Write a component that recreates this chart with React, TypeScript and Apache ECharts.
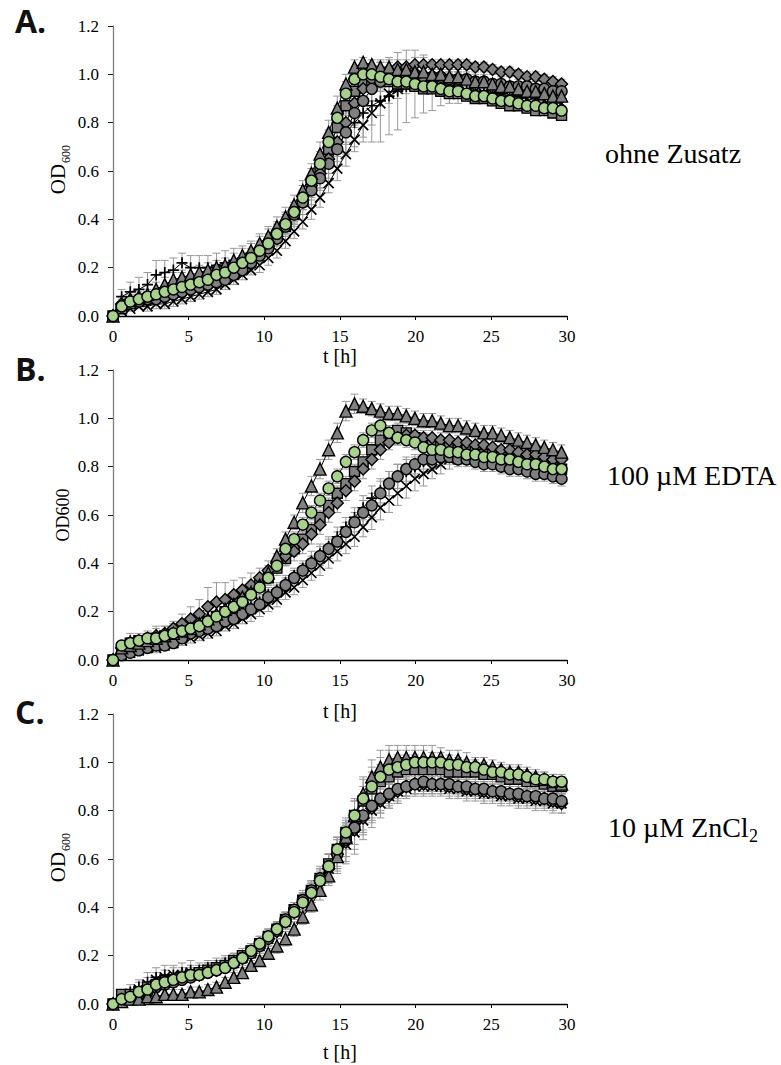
import React, { useEffect, useRef } from "react";
import * as echarts from "echarts";

// ---- sampling times [h] ----
const TIMES = [0.00,0.57,1.14,1.71,2.28,2.85,3.42,3.99,4.56,5.13,
  5.70,6.27,6.84,7.41,7.98,8.55,9.12,9.69,10.26,10.83,
  11.40,11.97,12.54,13.11,13.68,14.25,14.82,15.39,15.96,16.53,
  17.10,17.67,18.24,18.81,19.38,19.95,20.52,21.09,21.66,22.23,
  22.80,23.37,23.94,24.51,25.08,25.65,26.22,26.79,27.36,27.93,
  28.50,29.07,29.64];

const X_TICKS = [0, 5, 10, 15, 20, 25, 30];
const Y_TICKS = [0, 0.2, 0.4, 0.6, 0.8, 1.0, 1.2];

// ---- Panel A: ohne Zusatz ----
const A_TRI = [0.00,0.05,0.07,0.08,0.09,0.11,0.13,0.15,0.16,0.17, 0.18,0.19,0.20,0.21,0.23,0.25,0.27,0.30,0.33,0.37, 0.41,0.46,0.52,0.59,0.67,0.76,0.86,0.96,1.03,1.05, 1.04,1.03,1.03,1.02,1.02,1.01,1.01,1.00,1.00,0.99, 0.99,0.98,0.97,0.97,0.96,0.95,0.95,0.94,0.93,0.93, 0.92,0.91,0.91];
const A_GREEN = [0.00,0.04,0.06,0.07,0.08,0.09,0.10,0.11,0.12,0.13, 0.14,0.15,0.17,0.18,0.20,0.22,0.24,0.27,0.30,0.34, 0.38,0.43,0.49,0.56,0.63,0.72,0.82,0.92,0.98,1.00, 1.00,0.99,0.98,0.97,0.97,0.96,0.95,0.95,0.94,0.93, 0.93,0.92,0.91,0.91,0.90,0.89,0.89,0.88,0.87,0.87, 0.86,0.86,0.85];
const A_SQUARE = [0.00,0.03,0.05,0.06,0.07,0.08,0.09,0.10,0.11,0.12, 0.13,0.14,0.16,0.17,0.19,0.21,0.23,0.26,0.29,0.33, 0.37,0.42,0.48,0.54,0.61,0.69,0.78,0.87,0.93,0.96, 0.97,0.97,0.97,0.96,0.96,0.95,0.94,0.94,0.93,0.92, 0.92,0.91,0.90,0.90,0.89,0.88,0.87,0.87,0.86,0.85, 0.85,0.84,0.83];
const A_DIAMOND = [0.00,0.05,0.06,0.07,0.08,0.09,0.10,0.11,0.12,0.12, 0.13,0.14,0.15,0.17,0.18,0.20,0.23,0.26,0.29,0.33, 0.38,0.43,0.48,0.54,0.59,0.65,0.72,0.80,0.88,0.94, 0.98,1.01,1.02,1.03,1.03,1.04,1.04,1.04,1.04,1.04, 1.04,1.04,1.03,1.03,1.02,1.01,1.01,1.00,0.99,0.99, 0.98,0.97,0.96];
const A_GRAY = [0.00,0.04,0.06,0.06,0.07,0.07,0.08,0.09,0.10,0.11, 0.12,0.13,0.14,0.15,0.17,0.19,0.22,0.25,0.28,0.32, 0.37,0.42,0.47,0.52,0.57,0.63,0.69,0.76,0.84,0.89, 0.94,0.97,0.99,1.00,1.00,1.00,0.99,0.99,0.99,0.98, 0.98,0.98,0.97,0.97,0.96,0.96,0.95,0.95,0.95,0.94, 0.94,0.93,0.93];
const A_CROSS = [0.00,0.02,0.03,0.04,0.04,0.05,0.05,0.06,0.07,0.08, 0.09,0.10,0.11,0.13,0.15,0.17,0.19,0.21,0.24,0.27, 0.31,0.35,0.39,0.44,0.49,0.55,0.61,0.67,0.73,0.79, 0.84,0.88,0.92,0.94,0.95,0.96,0.95,0.95,0.95,0.94, 0.94,0.93,0.93,0.92,0.92,0.91,0.91,0.90,0.90,0.89, 0.89,0.88,0.88];
const A_PLUS = [0.00,0.08,0.10,0.11,0.13,0.17,0.18,0.19,0.22,0.20, 0.20,0.20,0.21,0.22,0.23,0.24,0.26,0.28,0.31,0.34, 0.38,0.42,0.47,0.52,0.58,0.64,0.70,0.76,0.80,0.84, 0.87,0.89,0.91,0.93,0.95,0.96,0.96,0.95,0.95,0.95, 0.94,0.94,0.93,0.93,0.92,0.92,0.91,0.91,0.91,0.90, 0.90,0.89,0.89];

const A_TRI_SD = [0,0.01,0.02,0.02,0.02,0.03,0.03,0.03,0.03,0.03, 0.03,0.03,0.03,0.03,0.03,0.03,0.03,0.04,0.04,0.04, 0.04,0.04,0.04,0.04,0.05,0.05,0.05,0.04,0.03,0.02, 0.02,0.02,0.02,0.02,0.02,0.02,0.02,0.02,0.02,0.02, 0.02,0.02,0.02,0.02,0.02,0.02,0.02,0.02,0.02,0.02, 0.02,0.02,0.02];
const A_GREEN_SD = [0,0.01,0.02,0.02,0.02,0.02,0.02,0.03,0.03,0.03, 0.03,0.03,0.03,0.03,0.03,0.03,0.04,0.04,0.04,0.04, 0.04,0.04,0.05,0.05,0.05,0.05,0.05,0.05,0.04,0.03, 0.03,0.03,0.03,0.02,0.02,0.02,0.02,0.02,0.02,0.02, 0.02,0.02,0.02,0.02,0.02,0.02,0.02,0.02,0.02,0.02, 0.02,0.02,0.02];
const A_SQUARE_SD = [0,0.01,0.01,0.02,0.02,0.02,0.02,0.02,0.02,0.02, 0.02,0.02,0.02,0.03,0.03,0.03,0.03,0.03,0.03,0.03, 0.04,0.04,0.04,0.04,0.04,0.04,0.04,0.04,0.03,0.03, 0.03,0.03,0.02,0.02,0.02,0.02,0.02,0.02,0.02,0.02, 0.02,0.02,0.02,0.02,0.02,0.02,0.02,0.02,0.02,0.02, 0.02,0.02,0.02];
const A_DIAMOND_SD = [0,0.02,0.02,0.02,0.02,0.02,0.02,0.02,0.02,0.02, 0.02,0.02,0.02,0.02,0.02,0.03,0.03,0.03,0.03,0.03, 0.03,0.03,0.03,0.04,0.04,0.04,0.04,0.04,0.04,0.04, 0.04,0.04,0.04,0.03,0.03,0.03,0.03,0.02,0.02,0.02, 0.02,0.02,0.02,0.02,0.02,0.02,0.02,0.02,0.02,0.02, 0.02,0.02,0.02];
const A_GRAY_SD = [0,0.01,0.02,0.02,0.02,0.02,0.02,0.02,0.02,0.02, 0.02,0.02,0.02,0.02,0.02,0.02,0.03,0.03,0.03,0.03, 0.03,0.03,0.03,0.03,0.04,0.04,0.05,0.05,0.05,0.05, 0.05,0.04,0.04,0.04,0.04,0.04,0.04,0.03,0.03,0.03, 0.03,0.03,0.03,0.03,0.02,0.02,0.02,0.02,0.02,0.02, 0.02,0.02,0.02];
const A_CROSS_SD = [0,0.01,0.01,0.01,0.02,0.02,0.02,0.02,0.02,0.02, 0.02,0.02,0.02,0.02,0.02,0.02,0.02,0.03,0.03,0.03, 0.03,0.03,0.03,0.04,0.04,0.04,0.05,0.05,0.05,0.05, 0.05,0.05,0.04,0.04,0.03,0.03,0.03,0.03,0.03,0.02, 0.02,0.02,0.02,0.02,0.02,0.02,0.02,0.02,0.02,0.02, 0.02,0.02,0.02];
const A_PLUS_SD = [0,0.03,0.04,0.05,0.05,0.06,0.05,0.05,0.04,0.05, 0.05,0.05,0.05,0.05,0.05,0.05,0.05,0.05,0.05,0.05, 0.05,0.05,0.05,0.06,0.06,0.07,0.08,0.09,0.10,0.12, 0.15,0.17,0.16,0.16,0.15,0.14,0.12,0.10,0.08,0.07, 0.06,0.05,0.04,0.04,0.03,0.03,0.03,0.03,0.03,0.03, 0.03,0.03,0.03];

// ---- Panel B: 100 µM EDTA ----
const B_TRI = [0.00,0.05,0.06,0.07,0.08,0.09,0.10,0.11,0.12,0.13, 0.15,0.17,0.19,0.21,0.23,0.26,0.28,0.31,0.36,0.43, 0.50,0.57,0.65,0.72,0.79,0.87,0.94,1.03,1.06,1.05, 1.04,1.03,1.02,1.02,1.01,1.00,0.99,0.99,0.98,0.97, 0.97,0.96,0.95,0.94,0.94,0.93,0.92,0.91,0.90,0.89, 0.88,0.87,0.86];
const B_GREEN = [0.00,0.06,0.07,0.08,0.09,0.09,0.10,0.11,0.12,0.13, 0.14,0.16,0.18,0.20,0.22,0.24,0.27,0.30,0.34,0.39, 0.46,0.50,0.56,0.61,0.66,0.71,0.76,0.82,0.86,0.91, 0.95,0.97,0.94,0.92,0.91,0.90,0.88,0.87,0.87,0.86, 0.86,0.85,0.85,0.84,0.84,0.83,0.83,0.82,0.81,0.81, 0.80,0.79,0.79];
const B_SQUARE = [0.00,0.05,0.07,0.08,0.08,0.09,0.10,0.11,0.12,0.13, 0.14,0.16,0.18,0.20,0.22,0.25,0.28,0.31,0.34,0.38, 0.42,0.46,0.50,0.54,0.59,0.64,0.69,0.73,0.78,0.82, 0.87,0.91,0.94,0.95,0.94,0.92,0.91,0.90,0.89,0.88, 0.87,0.87,0.86,0.85,0.85,0.84,0.83,0.83,0.82,0.81, 0.81,0.80,0.79];
const B_DIAMOND = [0.00,0.05,0.07,0.08,0.09,0.10,0.11,0.13,0.15,0.17, 0.19,0.22,0.24,0.25,0.27,0.29,0.31,0.34,0.37,0.40, 0.43,0.45,0.48,0.52,0.56,0.61,0.65,0.70,0.74,0.79, 0.83,0.87,0.90,0.92,0.93,0.93,0.92,0.92,0.91,0.91, 0.90,0.90,0.89,0.89,0.88,0.87,0.87,0.86,0.85,0.85, 0.84,0.83,0.83];
const B_GRAY = [0.00,0.02,0.03,0.04,0.05,0.06,0.06,0.07,0.09,0.11, 0.12,0.13,0.14,0.16,0.17,0.19,0.21,0.23,0.26,0.28, 0.31,0.34,0.37,0.40,0.43,0.46,0.49,0.53,0.57,0.61, 0.64,0.69,0.73,0.76,0.79,0.81,0.83,0.83,0.84,0.84, 0.83,0.83,0.82,0.81,0.81,0.80,0.79,0.79,0.78,0.77, 0.77,0.76,0.75];
const B_CROSS = [0.00,0.02,0.03,0.04,0.05,0.05,0.06,0.07,0.08,0.09, 0.10,0.11,0.12,0.14,0.15,0.17,0.19,0.21,0.23,0.25, 0.28,0.30,0.33,0.36,0.39,0.42,0.45,0.48,0.51,0.55, 0.59,0.63,0.66,0.69,0.72,0.75,0.77,0.79,0.81,0.83, 0.84,0.84,0.84,0.84,0.83,0.83,0.82,0.82,0.81,0.81, 0.80,0.80,0.79];
const B_PLUS = [0.00,0.06,0.08,0.08,0.09,0.10,0.11,0.12,0.13,0.13, 0.14,0.15,0.16,0.17,0.18,0.20,0.22,0.24,0.27,0.29, 0.32,0.35,0.38,0.41,0.44,0.47,0.51,0.55,0.59,0.63, 0.67,0.70,0.73,0.76,0.78,0.80,0.82,0.83,0.84,0.85, 0.85,0.84,0.84,0.83,0.83,0.82,0.82,0.81,0.81,0.80, 0.80,0.79,0.79];

const B_TRI_SD = [0,0.01,0.02,0.02,0.02,0.02,0.02,0.02,0.02,0.02, 0.02,0.03,0.03,0.03,0.03,0.03,0.03,0.03,0.03,0.03, 0.03,0.03,0.04,0.04,0.04,0.04,0.04,0.04,0.04,0.03, 0.03,0.03,0.03,0.03,0.03,0.03,0.03,0.03,0.03,0.03, 0.03,0.03,0.03,0.03,0.03,0.03,0.03,0.03,0.03,0.03, 0.03,0.03,0.03];
const B_GREEN_SD = [0,0.01,0.02,0.02,0.02,0.02,0.02,0.02,0.02,0.02, 0.02,0.02,0.02,0.02,0.03,0.03,0.03,0.03,0.03,0.03, 0.03,0.03,0.03,0.03,0.03,0.03,0.03,0.03,0.03,0.03, 0.03,0.03,0.03,0.03,0.03,0.03,0.03,0.03,0.03,0.03, 0.03,0.03,0.03,0.03,0.03,0.03,0.03,0.03,0.03,0.03, 0.03,0.03,0.03];
const B_SQUARE_SD = [0,0.01,0.02,0.02,0.02,0.02,0.02,0.02,0.02,0.02, 0.02,0.02,0.02,0.02,0.02,0.03,0.03,0.03,0.03,0.03, 0.03,0.03,0.03,0.03,0.03,0.03,0.03,0.03,0.03,0.03, 0.03,0.03,0.03,0.03,0.03,0.03,0.03,0.03,0.03,0.03, 0.03,0.03,0.03,0.03,0.03,0.03,0.03,0.03,0.03,0.03, 0.03,0.03,0.03];
const B_DIAMOND_SD = [0,0.02,0.02,0.02,0.02,0.03,0.03,0.03,0.04,0.05, 0.06,0.08,0.08,0.07,0.06,0.05,0.05,0.04,0.04,0.04, 0.04,0.04,0.04,0.04,0.04,0.04,0.04,0.04,0.04,0.04, 0.04,0.04,0.03,0.03,0.03,0.03,0.03,0.03,0.03,0.03, 0.03,0.03,0.03,0.03,0.03,0.03,0.03,0.03,0.03,0.03, 0.03,0.03,0.03];
const B_GRAY_SD = [0,0.01,0.02,0.02,0.02,0.02,0.02,0.02,0.02,0.02, 0.02,0.02,0.02,0.02,0.02,0.02,0.02,0.03,0.03,0.03, 0.03,0.03,0.03,0.03,0.04,0.04,0.04,0.04,0.04,0.05, 0.05,0.05,0.05,0.05,0.05,0.04,0.04,0.04,0.03,0.03, 0.03,0.03,0.03,0.03,0.03,0.03,0.03,0.03,0.03,0.03, 0.03,0.03,0.03];
const B_CROSS_SD = [0,0.01,0.01,0.02,0.02,0.02,0.02,0.02,0.02,0.02, 0.02,0.02,0.02,0.02,0.02,0.02,0.03,0.03,0.03,0.03, 0.03,0.03,0.03,0.03,0.04,0.04,0.04,0.04,0.04,0.04, 0.05,0.05,0.05,0.05,0.05,0.05,0.05,0.04,0.04,0.04, 0.03,0.03,0.03,0.03,0.03,0.03,0.03,0.03,0.03,0.03, 0.03,0.03,0.03];
const B_PLUS_SD = [0,0.02,0.03,0.03,0.03,0.04,0.03,0.03,0.03,0.03, 0.03,0.03,0.03,0.03,0.03,0.03,0.03,0.03,0.03,0.03, 0.03,0.03,0.03,0.04,0.04,0.04,0.04,0.04,0.04,0.05, 0.05,0.05,0.05,0.05,0.05,0.04,0.04,0.04,0.04,0.03, 0.03,0.03,0.03,0.03,0.03,0.03,0.03,0.03,0.03,0.03, 0.03,0.03,0.03];

// ---- Panel C: 10 µM ZnCl2 ----
const C_TRI = [0.00,0.01,0.02,0.02,0.03,0.03,0.04,0.04,0.04,0.05, 0.05,0.06,0.07,0.09,0.11,0.13,0.16,0.18,0.21,0.24, 0.27,0.31,0.36,0.41,0.47,0.53,0.61,0.69,0.78,0.87, 0.94,0.98,1.01,1.02,1.02,1.02,1.02,1.02,1.02,1.01, 1.01,1.00,0.99,0.99,0.98,0.97,0.96,0.96,0.95,0.94, 0.93,0.92,0.91];
const C_GREEN = [0.00,0.02,0.03,0.05,0.06,0.08,0.09,0.10,0.11,0.12, 0.12,0.13,0.14,0.15,0.17,0.19,0.22,0.25,0.28,0.31, 0.34,0.38,0.42,0.46,0.51,0.57,0.64,0.71,0.78,0.85, 0.90,0.94,0.97,0.98,0.99,1.00,1.00,1.00,1.00,0.99, 0.99,0.98,0.98,0.97,0.96,0.96,0.95,0.95,0.94,0.93, 0.93,0.92,0.92];
const C_SQUARE = [0.00,0.04,0.04,0.05,0.07,0.08,0.09,0.10,0.11,0.12, 0.13,0.14,0.15,0.16,0.18,0.20,0.22,0.25,0.28,0.31, 0.35,0.39,0.43,0.47,0.52,0.58,0.64,0.71,0.78,0.84, 0.89,0.92,0.94,0.96,0.97,0.97,0.97,0.97,0.97,0.96, 0.96,0.96,0.96,0.95,0.95,0.94,0.93,0.93,0.92,0.92, 0.91,0.90,0.90];
const C_DIAMOND = [0.00,0.02,0.03,0.05,0.06,0.07,0.09,0.10,0.11,0.12, 0.12,0.13,0.14,0.15,0.17,0.19,0.21,0.24,0.27,0.30, 0.34,0.38,0.42,0.46,0.51,0.56,0.62,0.67,0.72,0.77, 0.81,0.84,0.86,0.88,0.90,0.91,0.91,0.91,0.91,0.90, 0.90,0.89,0.89,0.88,0.88,0.87,0.87,0.86,0.86,0.85, 0.85,0.84,0.83];
const C_GRAY = [0.00,0.01,0.02,0.04,0.05,0.07,0.08,0.09,0.10,0.11, 0.12,0.13,0.14,0.15,0.17,0.19,0.21,0.24,0.27,0.31, 0.35,0.39,0.43,0.47,0.52,0.57,0.62,0.68,0.73,0.78, 0.82,0.85,0.87,0.89,0.90,0.91,0.92,0.91,0.91,0.91, 0.90,0.90,0.89,0.89,0.88,0.88,0.87,0.87,0.86,0.86, 0.85,0.85,0.84];
const C_CROSS = [0.00,0.02,0.04,0.06,0.08,0.10,0.11,0.12,0.12,0.13, 0.13,0.14,0.15,0.16,0.17,0.19,0.21,0.24,0.27,0.30, 0.34,0.38,0.42,0.46,0.51,0.56,0.61,0.66,0.71,0.76, 0.80,0.83,0.86,0.88,0.89,0.90,0.90,0.90,0.90,0.89, 0.89,0.88,0.88,0.87,0.87,0.86,0.86,0.85,0.85,0.84, 0.84,0.83,0.83];
const C_PLUS = [0.00,0.03,0.05,0.07,0.09,0.11,0.12,0.12,0.13,0.14, 0.14,0.15,0.16,0.17,0.18,0.20,0.22,0.25,0.28,0.31, 0.35,0.39,0.43,0.47,0.52,0.57,0.63,0.68,0.73,0.78, 0.82,0.85,0.87,0.89,0.90,0.91,0.91,0.91,0.90,0.90, 0.90,0.89,0.89,0.88,0.88,0.87,0.87,0.86,0.86,0.85, 0.85,0.84,0.84];

const C_TRI_SD = [0,0.01,0.01,0.01,0.01,0.02,0.02,0.02,0.02,0.02, 0.02,0.02,0.02,0.02,0.02,0.02,0.02,0.02,0.02,0.03, 0.03,0.03,0.03,0.03,0.04,0.04,0.05,0.05,0.06,0.07, 0.07,0.07,0.06,0.05,0.05,0.05,0.05,0.05,0.04,0.04, 0.04,0.04,0.03,0.03,0.03,0.03,0.03,0.03,0.03,0.03, 0.03,0.03,0.03];
const C_GREEN_SD = [0,0.01,0.01,0.02,0.02,0.02,0.02,0.02,0.02,0.02, 0.02,0.02,0.02,0.02,0.02,0.02,0.02,0.03,0.03,0.03, 0.03,0.03,0.03,0.04,0.04,0.05,0.05,0.06,0.07,0.08, 0.08,0.08,0.08,0.07,0.06,0.05,0.05,0.04,0.04,0.04, 0.03,0.03,0.03,0.03,0.03,0.03,0.03,0.03,0.03,0.03, 0.03,0.03,0.03];
const C_SQUARE_SD = [0,0.01,0.02,0.02,0.02,0.02,0.02,0.03,0.03,0.03, 0.03,0.03,0.03,0.03,0.03,0.03,0.03,0.03,0.03,0.03, 0.03,0.03,0.03,0.04,0.04,0.04,0.05,0.05,0.06,0.06, 0.07,0.07,0.07,0.07,0.06,0.06,0.05,0.05,0.04,0.04, 0.04,0.03,0.03,0.03,0.03,0.03,0.03,0.03,0.03,0.03, 0.03,0.03,0.03];
const C_DIAMOND_SD = [0,0.01,0.02,0.02,0.02,0.02,0.02,0.02,0.02,0.02, 0.02,0.02,0.02,0.02,0.02,0.02,0.02,0.03,0.03,0.03, 0.03,0.03,0.04,0.04,0.05,0.06,0.07,0.08,0.08,0.07, 0.06,0.05,0.05,0.05,0.04,0.04,0.04,0.04,0.04,0.04, 0.04,0.04,0.04,0.04,0.04,0.04,0.04,0.04,0.04,0.04, 0.04,0.04,0.04];
const C_GRAY_SD = [0,0.01,0.02,0.02,0.02,0.02,0.02,0.02,0.02,0.02, 0.02,0.02,0.02,0.02,0.02,0.02,0.02,0.02,0.03,0.03, 0.03,0.03,0.03,0.04,0.04,0.05,0.06,0.07,0.07,0.06, 0.05,0.05,0.04,0.04,0.04,0.04,0.04,0.03,0.03,0.03, 0.03,0.03,0.03,0.03,0.03,0.03,0.03,0.03,0.03,0.03, 0.03,0.03,0.03];
const C_CROSS_SD = [0,0.02,0.02,0.03,0.03,0.03,0.03,0.03,0.03,0.03, 0.03,0.03,0.03,0.03,0.03,0.03,0.03,0.03,0.03,0.03, 0.03,0.03,0.04,0.04,0.05,0.06,0.07,0.08,0.09,0.08, 0.07,0.06,0.05,0.05,0.04,0.04,0.04,0.04,0.04,0.04, 0.04,0.04,0.04,0.04,0.04,0.04,0.04,0.04,0.04,0.04, 0.04,0.04,0.04];
const C_PLUS_SD = [0,0.02,0.03,0.03,0.04,0.04,0.04,0.04,0.04,0.04, 0.03,0.03,0.03,0.03,0.03,0.03,0.03,0.03,0.03,0.03, 0.03,0.03,0.04,0.04,0.05,0.05,0.06,0.07,0.07,0.07, 0.06,0.06,0.05,0.05,0.04,0.04,0.04,0.04,0.03,0.03, 0.03,0.03,0.03,0.03,0.03,0.03,0.03,0.03,0.03,0.03, 0.03,0.03,0.03];

// ---- styles (not data) ----
const GRAY = "#808080";
const GREEN = "#a9d18e";
const ERR = "#999999";
const SERIF = "Liberation Serif";

const MARKERS = [
  { key: "plus", symbol: "path://M5,0L5,10M0,5L10,5", size: 11, fill: "transparent", bw: 1.7 },
  { key: "cross", symbol: "path://M0,0L10,10M10,0L0,10", size: 10, fill: "transparent", bw: 1.7 },
  { key: "square", symbol: "rect", size: 10, fill: GRAY, bw: 1.4 },
  { key: "diamond", symbol: "diamond", size: 12, fill: GRAY, bw: 1.4 },
  { key: "gray", symbol: "circle", size: 11, fill: GRAY, bw: 1.4 },
  { key: "tri", symbol: "triangle", size: 12, fill: GRAY, bw: 1.4 },
  { key: "green", symbol: "circle", size: 11, fill: GREEN, bw: 1.4 },
];

const PANELS = [
  {
    top: 26,
    vals: { plus: A_PLUS, cross: A_CROSS, square: A_SQUARE, diamond: A_DIAMOND, gray: A_GRAY, tri: A_TRI, green: A_GREEN },
    sds: { plus: A_PLUS_SD, cross: A_CROSS_SD, square: A_SQUARE_SD, diamond: A_DIAMOND_SD, gray: A_GRAY_SD, tri: A_TRI_SD, green: A_GREEN_SD },
  },
  {
    top: 370,
    vals: { plus: B_PLUS, cross: B_CROSS, square: B_SQUARE, diamond: B_DIAMOND, gray: B_GRAY, tri: B_TRI, green: B_GREEN },
    sds: { plus: B_PLUS_SD, cross: B_CROSS_SD, square: B_SQUARE_SD, diamond: B_DIAMOND_SD, gray: B_GRAY_SD, tri: B_TRI_SD, green: B_GREEN_SD },
  },
  {
    top: 714,
    vals: { plus: C_PLUS, cross: C_CROSS, square: C_SQUARE, diamond: C_DIAMOND, gray: C_GRAY, tri: C_TRI, green: C_GREEN },
    sds: { plus: C_PLUS_SD, cross: C_CROSS_SD, square: C_SQUARE_SD, diamond: C_DIAMOND_SD, gray: C_GRAY_SD, tri: C_TRI_SD, green: C_GREEN_SD },
  },
];

const GRID_LEFT = 113;
const GRID_W = 454;
const GRID_H = 290;

function buildOption() {
  const grid: any[] = [];
  const xAxis: any[] = [];
  const yAxis: any[] = [];
  const series: any[] = [];

  PANELS.forEach((p, k) => {
    grid.push({ left: GRID_LEFT, top: p.top, width: GRID_W, height: GRID_H, containLabel: false });
    xAxis.push({
      gridIndex: k,
      type: "value",
      min: X_TICKS[0],
      max: X_TICKS[X_TICKS.length - 1],
      interval: X_TICKS[1] - X_TICKS[0],
      axisLine: { show: true, onZero: false, lineStyle: { color: "#000", width: 1.3 } },
      axisTick: { show: true, inside: false, length: 4, lineStyle: { color: "#000" } },
      axisLabel: { fontFamily: SERIF, fontSize: 17, color: "#000", margin: 12 },
      splitLine: { show: false },
    });
    yAxis.push({
      gridIndex: k,
      type: "value",
      min: Y_TICKS[0],
      max: Y_TICKS[Y_TICKS.length - 1],
      interval: 0.2,
      axisLine: { show: true, onZero: false, lineStyle: { color: "#7f7f7f", width: 1.3 } },
      axisTick: { show: true, inside: false, length: 5, lineStyle: { color: "#222" } },
      axisLabel: {
        fontFamily: SERIF,
        fontSize: 17,
        color: "#000",
        margin: 14,
        formatter: (v: number) => v.toFixed(1),
      },
      splitLine: { show: false },
    });

    // error bars
    const errData: number[][] = [];
    MARKERS.forEach((m) => {
      const v = (p.vals as any)[m.key] as number[];
      const s = (p.sds as any)[m.key] as number[];
      TIMES.forEach((t, i) => {
        if (s[i] > 0) errData.push([t, v[i] - s[i], v[i] + s[i]]);
      });
    });
    series.push({
      type: "custom",
      xAxisIndex: k,
      yAxisIndex: k,
      silent: true,
      z: 1,
      data: errData,
      renderItem: (params: any, api: any) => {
        const x = api.value(0);
        const lo = api.coord([x, api.value(1)]);
        const hi = api.coord([x, api.value(2)]);
        const w = 4;
        const st = { stroke: ERR, lineWidth: 1 };
        return {
          type: "group",
          children: [
            { type: "line", shape: { x1: lo[0], y1: lo[1], x2: hi[0], y2: hi[1] }, style: st },
            { type: "line", shape: { x1: hi[0] - w, y1: hi[1], x2: hi[0] + w, y2: hi[1] }, style: st },
            { type: "line", shape: { x1: lo[0] - w, y1: lo[1], x2: lo[0] + w, y2: lo[1] }, style: st },
          ],
        };
      },
    });

    MARKERS.forEach((m) => {
      const v = (p.vals as any)[m.key] as number[];
      series.push({
        type: "line",
        xAxisIndex: k,
        yAxisIndex: k,
        z: 2,
        silent: true,
        data: TIMES.map((t, i) => [t, v[i]]),
        symbol: m.symbol,
        symbolSize: m.size,
        showSymbol: true,
        showAllSymbol: true,
        itemStyle: { color: m.fill, borderColor: "#000", borderWidth: m.bw },
        lineStyle: { color: "#000", width: 1 },
        emphasis: { disabled: true },
      });
    });
  });

  const letter = (txt: string, y: number) => ({
    type: "text",
    left: 15,
    top: y,
    style: { text: txt, font: "bold 32px 'Open Sans', 'Noto Sans', sans-serif", fill: "#111" },
  });

  const serif = (size: number) => `${size}px "Liberation Serif", serif`;

  const xName = (y: number) => ({
    type: "text",
    x: 340,
    y,
    style: { text: "t [h]", font: serif(20), fill: "#000", align: "center", verticalAlign: "middle" },
  });

  const graphic: any[] = [
    letter("A.", 4),
    letter("B.", 352),
    letter("C.", 695),
    xName(356),
    xName(711),
    xName(1052),
    // OD600 (A)
    { type: "text", x: 58, y: 179, rotation: Math.PI / 2, style: { text: "OD", font: serif(21), fill: "#000", align: "center", verticalAlign: "middle" } },
    { type: "text", x: 66, y: 154, rotation: Math.PI / 2, style: { text: "600", font: serif(12), fill: "#000", align: "center", verticalAlign: "middle" } },
    // OD600 (B)
    { type: "text", x: 63, y: 515, rotation: Math.PI / 2, style: { text: "OD600", font: serif(18), fill: "#000", align: "center", verticalAlign: "middle" } },
    // OD600 (C)
    { type: "text", x: 58, y: 867, rotation: Math.PI / 2, style: { text: "OD", font: serif(21), fill: "#000", align: "center", verticalAlign: "middle" } },
    { type: "text", x: 66, y: 842, rotation: Math.PI / 2, style: { text: "600", font: serif(12), fill: "#000", align: "center", verticalAlign: "middle" } },
    // condition labels
    { type: "text", x: 605, y: 153, style: { text: "ohne Zusatz", font: serif(28), fill: "#000", align: "left", verticalAlign: "middle" } },
    { type: "text", x: 607, y: 475, style: { text: "100 µM EDTA", font: serif(28), fill: "#000", align: "left", verticalAlign: "middle" } },
    { type: "text", x: 608, y: 827, style: { text: "10 µM ZnCl", font: serif(28), fill: "#000", align: "left", verticalAlign: "middle" } },
    { type: "text", x: 749, y: 836, style: { text: "2", font: serif(18), fill: "#000", align: "left", verticalAlign: "middle" } },
  ];

  return {
    animation: false,
    backgroundColor: "#fff",
    textStyle: { fontFamily: SERIF },
    grid,
    xAxis,
    yAxis,
    series,
    graphic,
  };
}

export default function App() {
  const ref = useRef<HTMLDivElement>(null);
  useEffect(() => {
    if (!ref.current) return;
    const chart = echarts.init(ref.current, undefined, { renderer: "svg" });
    chart.setOption(buildOption() as any);
    return () => chart.dispose();
  }, []);
  return (
    <div
      ref={ref}
      style={{ position: "absolute", left: 0, top: 0, width: 781, height: 1065, background: "#fff" }}
    />
  );
}
